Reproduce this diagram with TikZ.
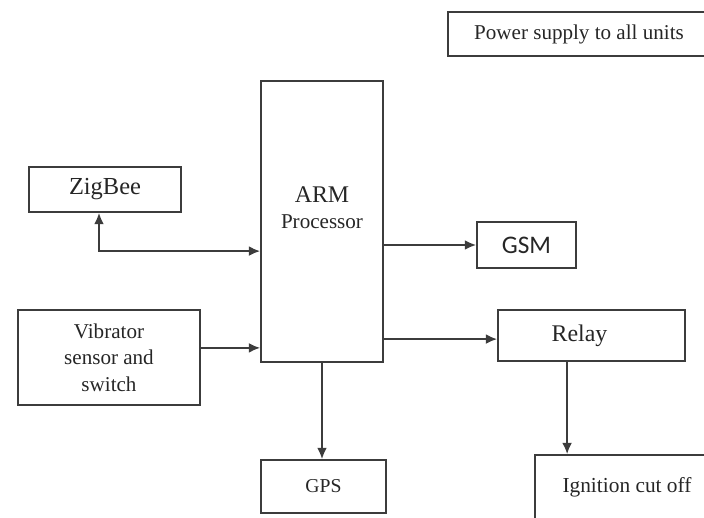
\documentclass[tikz,border=0pt]{standalone}
\usepackage{fontspec}
\setmainfont{Liberation Serif}
\newfontfamily\gsmfont{Carlito}
\usetikzlibrary{arrows.meta,positioning,calc}
\definecolor{linegray}{RGB}{60,60,60}

\begin{document}
\begin{tikzpicture}[
  block/.style={draw=linegray,line width=1.3pt,rectangle,inner sep=0pt,
                text=black!85,align=center},
  link/.style={draw=linegray,line width=1.2pt,-{Latex[length=8pt,width=7pt]}},
  biglbl/.style={font=\fontsize{17}{20}\selectfont},
  midlbl/.style={font=\fontsize{15}{18.8}\selectfont}
]
  \useasboundingbox (0,0) rectangle (17.6,12.925);

  %% ---- top right note ----
  \node[block,midlbl,minimum width=6.55cm,minimum height=1.1cm]
       (power) at (14.475,12.075) {Power supply to all units};

  %% ---- processor (tall box, label sits above its centre) ----
  \node[block,minimum width=3.05cm,minimum height=7.025cm]
       (arm) at (8.05,7.3875) {};
  \node[text=black!85,align=center,font=\fontsize{15}{18.5}\selectfont]
       (armlbl) at ([yshift=0.34cm]arm.center)
       {{\fontsize{17}{20}\selectfont ARM}\\Processor};

  %% ---- left column ----
  \node[block,font=\fontsize{17.4}{20}\selectfont,
        minimum width=3.8cm,minimum height=1.125cm]
       (zigbee) at (2.625,8.1875) {ZigBee};
  \node[block,midlbl,minimum width=4.55cm,minimum height=2.375cm]
       (vib) at (2.725,3.9875) {Vibrator\\sensor and\\switch};

  %% ---- right column ----
  \node[block,font=\fontsize{18}{21}\gsmfont,
        minimum width=2.475cm,minimum height=1.15cm]
       (gsm) at (13.1625,6.8) {GSM};
  \node[block,biglbl,minimum width=4.675cm,minimum height=1.275cm]
       (relay) at (14.7875,4.5375) {\hspace*{-0.6cm}Relay};

  %% ---- bottom row ----
  \node[block,font=\fontsize{14}{17}\selectfont,
        minimum width=3.125cm,minimum height=1.325cm]
       (gps) at (8.0875,0.7625) {GPS};
  \node[block,font=\fontsize{15.2}{18}\selectfont,
        minimum width=4.6cm,minimum height=1.6cm]
       (ign) at (15.675,0.75) {Ignition cut off};

  %% ---- connections ----
  % ZigBee <-> ARM (elbow)
  \draw[link,{Latex[length=8pt,width=7pt]}-{Latex[length=8pt,width=7pt]}]
       ([xshift=-0.15cm]zigbee.south) |- ([yshift=-0.74cm]arm.west);

  % Vibrator -> ARM
  \draw[link] ([yshift=0.24cm]vib.east) coordinate (vibout)
              -- (vibout -| arm.west);

  % ARM -> GSM, ARM -> Relay
  \draw[link] (arm.east |- gsm.west) -- (gsm.west);
  \draw[link] ([yshift=-0.09cm]arm.east |- relay.west) coordinate (armout)
              -- (armout -| relay.west);

  % ARM -> GPS
  \draw[link] (arm.south) -- (arm.south |- gps.north);

  % Relay -> Ignition
  \draw[link] ([xshift=-0.61cm]relay.south) coordinate (relout)
              -- (relout |- ign.north);
\end{tikzpicture}
\end{document}
